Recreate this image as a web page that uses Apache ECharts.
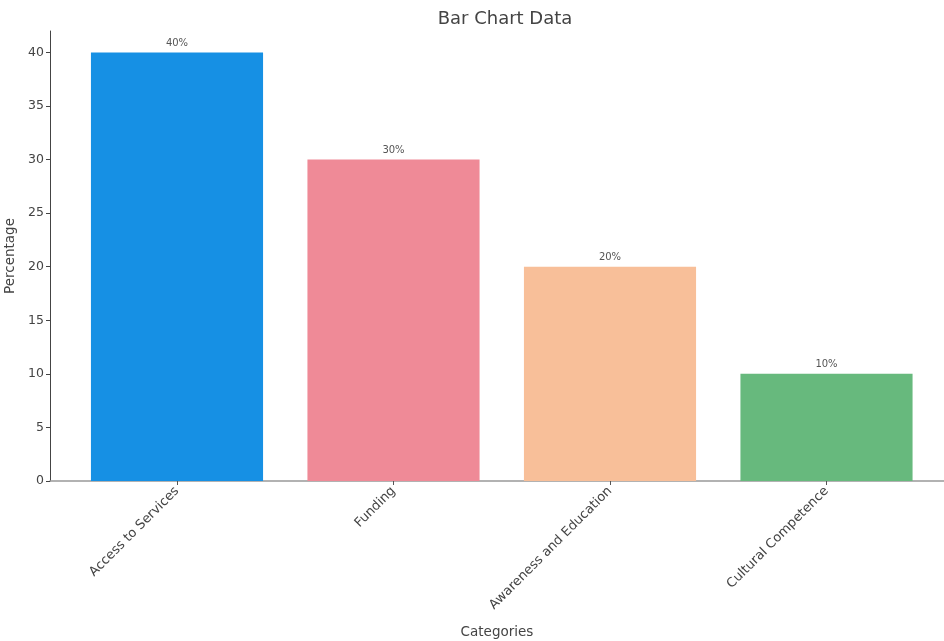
<!DOCTYPE html>
<html>
<head>
<meta charset="utf-8">
<script src="https://cdn.jsdelivr.net/npm/echarts@6/dist/echarts.min.js"></script>
<style>html,body{margin:0;padding:0;background:#fff;}#c{width:944px;height:641px;}</style>
</head>
<body>
<div id="c"></div>
<script>
const categories = ['Access to Services', 'Funding', 'Awareness and Education', 'Cultural Competence'];
const values = [40, 30, 20, 10];
const colors = ['#1690e4', '#ef8a97', '#f8bf99', '#67b97d'];
const yTicks = [0, 5, 10, 15, 20, 25, 30, 35, 40];
const yMax = 42;

const font = 'DejaVu Sans';
const chart = echarts.init(document.getElementById('c'));
chart.setOption({
  animation: false,
  textStyle: { fontFamily: font },
  title: {
    text: 'Bar Chart Data', left: 500, top: 5, textAlign: 'center',
    textStyle: { fontFamily: font, fontSize: 18, fontWeight: 'normal', color: '#444' }
  },
  grid: [
    { left: 68.75, right: 9.25, top: 31, bottom: 160, outerBoundsMode: 'none', containLabel: false },
    { left: 50, right: 0, top: 31, bottom: 160, outerBoundsMode: 'none', containLabel: false }
  ],
  xAxis: [
    {
      type: 'category', gridIndex: 0, data: categories,
      axisLine: { show: false },
      axisTick: { show: true, alignWithLabel: true, length: 4, lineStyle: { color: '#555' } },
      axisLabel: { rotate: 45, fontSize: 13, color: '#444', margin: 8, fontFamily: font }
    },
    {
      type: 'value', gridIndex: 1, min: 0, max: 1,
      axisLine: { show: true, lineStyle: { color: '#999', width: 1.5 } },
      axisTick: { show: false }, axisLabel: { show: false }, splitLine: { show: false },
      name: 'Categories', nameLocation: 'middle', nameGap: 144,
      nameTextStyle: { fontSize: 13.5, color: '#444', fontFamily: font }
    }
  ],
  yAxis: [
    { type: 'value', gridIndex: 0, min: 0, max: yMax, show: false, splitLine: { show: false } },
    {
      type: 'value', gridIndex: 1, min: 0, max: yMax, interval: 5,
      axisLine: { show: true, lineStyle: { color: '#444', width: 1 } },
      axisTick: { show: true, length: 4, customValues: yTicks, lineStyle: { color: '#444' } },
      axisLabel: { customValues: yTicks, fontSize: 12.5, color: '#444', margin: 6, fontFamily: font },
      splitLine: { show: false },
      name: 'Percentage', nameLocation: 'middle', nameGap: 28,
      nameTextStyle: { fontSize: 13.5, color: '#444', fontFamily: font }
    }
  ],
  series: [{
    type: 'bar', xAxisIndex: 0, yAxisIndex: 0,
    data: values.map((v, i) => ({ value: v, itemStyle: { color: colors[i] } })),
    barWidth: '79.5%',
    label: {
      show: true, position: 'top', distance: 4, formatter: p => p.value + '%',
      fontSize: 10, color: '#555', fontFamily: font
    }
  }]
});
</script>
</body>
</html>
